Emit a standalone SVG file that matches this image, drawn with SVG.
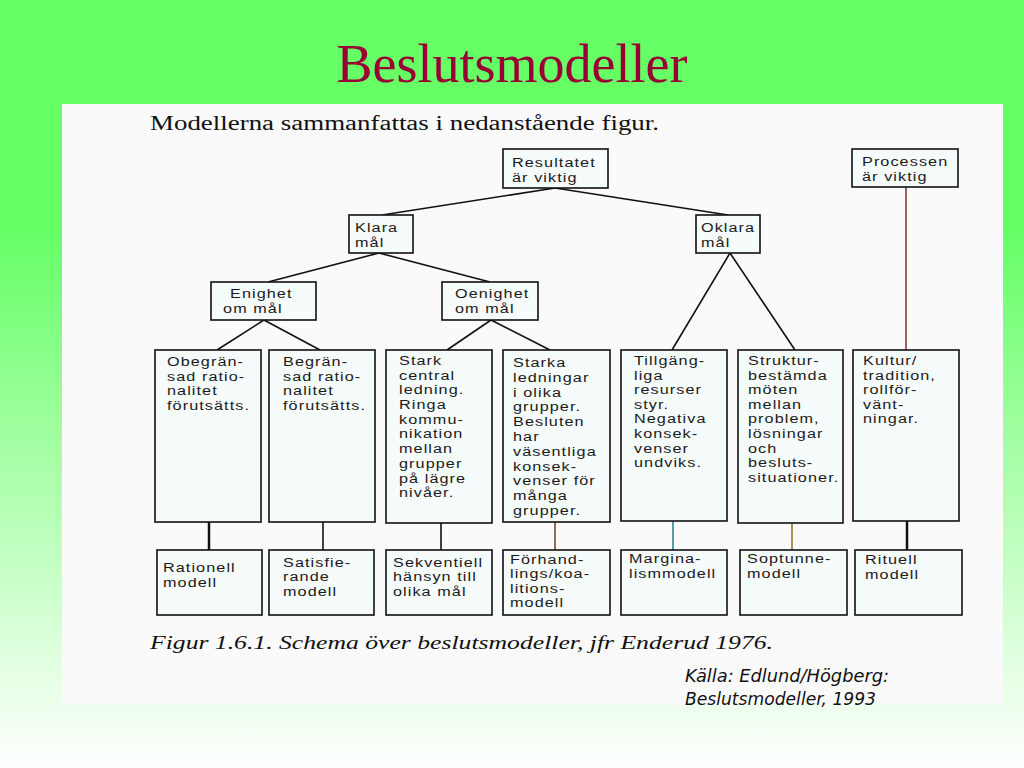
<svg xmlns="http://www.w3.org/2000/svg" width="1024" height="768" viewBox="0 0 1024 768">
<defs>
<linearGradient id="bg" x1="0" y1="0" x2="0" y2="1">
<stop offset="0" stop-color="#66ff66"/>
<stop offset="0.3" stop-color="#66ff66"/>
<stop offset="1" stop-color="#ffffff"/>
</linearGradient>
<style>
.box{fill:#f6fbfb;stroke:#111;stroke-width:1.6}
.t{font-family:"Liberation Sans",Arial,sans-serif;font-size:13.5px;fill:#1a1a1a;letter-spacing:0.9px}
.ln{stroke:#111;stroke-width:1.6;fill:none}
</style>
</defs>
<rect x="0" y="0" width="1024" height="768" fill="url(#bg)"/>
<rect x="62" y="104" width="941" height="601" fill="#fbfafa"/>
<text x="512" y="82" text-anchor="middle" font-family="Liberation Serif,'Times New Roman',serif" font-size="54" fill="#990033">Beslutsmodeller</text>
<text x="150" y="130" font-family="Liberation Serif,'Times New Roman',serif" font-size="20" fill="#111" textLength="509" lengthAdjust="spacingAndGlyphs">Modellerna sammanfattas i nedanstående figur.</text>

<g id="connectors">
<line class="ln" x1="555" y1="188" x2="382" y2="215"/>
<line class="ln" x1="555" y1="188" x2="728" y2="215"/>
<line class="ln" x1="379" y1="253" x2="268" y2="282"/>
<line class="ln" x1="379" y1="253" x2="490" y2="282"/>
<line class="ln" x1="264" y1="320" x2="217" y2="350"/>
<line class="ln" x1="264" y1="320" x2="320" y2="350"/>
<line class="ln" x1="491" y1="320" x2="447" y2="350"/>
<line class="ln" x1="491" y1="320" x2="550" y2="350"/>
<line class="ln" x1="730" y1="253" x2="672" y2="350"/>
<line class="ln" x1="730" y1="253" x2="795" y2="350"/>
<line class="ln" x1="906" y1="187" x2="906" y2="350" style="stroke:#8a3a3a"/>
<line class="ln" x1="209" y1="522" x2="209" y2="550" style="stroke-width:2.5"/>
<line class="ln" x1="323" y1="522" x2="323" y2="550"/>
<line class="ln" x1="441" y1="523" x2="441" y2="550"/>
<line class="ln" x1="555" y1="522" x2="555" y2="550" style="stroke:#7a4a2a"/>
<line class="ln" x1="673" y1="521" x2="673" y2="550" style="stroke:#2a8a8a"/>
<line class="ln" x1="792" y1="523" x2="792" y2="550" style="stroke:#9a7a2a"/>
<line class="ln" x1="907" y1="521" x2="907" y2="550" style="stroke-width:2.5"/>
</g>

<g id="resultatet">
<rect class="box" x="503" y="149" width="105" height="39"/>
<text class="t" transform="translate(512,167) scale(1.2,1)"><tspan x="0" y="0">Resultatet</tspan><tspan x="0" y="15">är viktig</tspan></text>
</g>
<g id="processen">
<rect class="box" x="852" y="149" width="106" height="38"/>
<text class="t" transform="translate(862,166) scale(1.2,1)"><tspan x="0" y="0">Processen</tspan><tspan x="0" y="15">är viktig</tspan></text>
</g>
<g id="klara">
<rect class="box" x="349" y="215" width="64" height="38"/>
<text class="t" transform="translate(355,232) scale(1.2,1)"><tspan x="0" y="0">Klara</tspan><tspan x="0" y="15">mål</tspan></text>
</g>
<g id="oklara">
<rect class="box" x="696" y="215" width="64" height="38"/>
<text class="t" transform="translate(701,232) scale(1.2,1)"><tspan x="0" y="0">Oklara</tspan><tspan x="0" y="15">mål</tspan></text>
</g>
<g id="enighet">
<rect class="box" x="211" y="282" width="105" height="38"/>
<text class="t" transform="translate(230,298) scale(1.2,1)"><tspan x="0" y="0">Enighet</tspan><tspan x="-5.8" y="15">om mål</tspan></text>
</g>
<g id="oenighet">
<rect class="box" x="442" y="282" width="96" height="38"/>
<text class="t" transform="translate(455,298) scale(1.2,1)"><tspan x="0" y="0">Oenighet</tspan><tspan x="0" y="15">om mål</tspan></text>
</g>

<g id="obegransad">
<rect class="box" x="155" y="350" width="106" height="172"/>
<text class="t" transform="translate(167,366) scale(1.2,1)"><tspan x="0" y="0">Obegrän-</tspan><tspan x="0" y="14.7">sad ratio-</tspan><tspan x="0" y="29.4">nalitet</tspan><tspan x="0" y="44.1">förutsätts.</tspan></text>
</g>
<g id="begransad">
<rect class="box" x="269" y="350" width="106" height="172"/>
<text class="t" transform="translate(283,366) scale(1.2,1)"><tspan x="0" y="0">Begrän-</tspan><tspan x="0" y="14.7">sad ratio-</tspan><tspan x="0" y="29.4">nalitet</tspan><tspan x="0" y="44.1">förutsätts.</tspan></text>
</g>
<g id="stark">
<rect class="box" x="386" y="350" width="106" height="173"/>
<text class="t" transform="translate(399,365) scale(1.2,1)"><tspan x="0" y="0">Stark</tspan><tspan x="0" y="14.7">central</tspan><tspan x="0" y="29.4">ledning.</tspan><tspan x="0" y="44.1">Ringa</tspan><tspan x="0" y="58.8">kommu-</tspan><tspan x="0" y="73.5">nikation</tspan><tspan x="0" y="88.2">mellan</tspan><tspan x="0" y="102.9">grupper</tspan><tspan x="0" y="117.6">på lägre</tspan><tspan x="0" y="132.3">nivåer.</tspan></text>
</g>
<g id="starka">
<rect class="box" x="503" y="350" width="107" height="172"/>
<text class="t" transform="translate(513,367) scale(1.2,1)"><tspan x="0" y="0">Starka</tspan><tspan x="0" y="14.8">ledningar</tspan><tspan x="0" y="29.6">i olika</tspan><tspan x="0" y="44.4">grupper.</tspan><tspan x="0" y="59.2">Besluten</tspan><tspan x="0" y="74">har</tspan><tspan x="0" y="88.8">väsentliga</tspan><tspan x="0" y="103.6">konsek-</tspan><tspan x="0" y="118.4">venser för</tspan><tspan x="0" y="133.2">många</tspan><tspan x="0" y="148">grupper.</tspan></text>
</g>
<g id="tillganglig">
<rect class="box" x="621" y="350" width="106" height="171"/>
<text class="t" transform="translate(634,365) scale(1.2,1)"><tspan x="0" y="0">Tillgäng-</tspan><tspan x="0" y="14.6">liga</tspan><tspan x="0" y="29.2">resurser</tspan><tspan x="0" y="43.8">styr.</tspan><tspan x="0" y="58.4">Negativa</tspan><tspan x="0" y="73">konsek-</tspan><tspan x="0" y="87.6">venser</tspan><tspan x="0" y="102.2">undviks.</tspan></text>
</g>
<g id="struktur">
<rect class="box" x="738" y="350" width="105" height="173"/>
<text class="t" transform="translate(748,365) scale(1.2,1)"><tspan x="0" y="0">Struktur-</tspan><tspan x="0" y="14.6">bestämda</tspan><tspan x="0" y="29.2">möten</tspan><tspan x="0" y="43.8">mellan</tspan><tspan x="0" y="58.4">problem,</tspan><tspan x="0" y="73">lösningar</tspan><tspan x="0" y="87.6">och</tspan><tspan x="0" y="102.2">besluts-</tspan><tspan x="0" y="116.8">situationer.</tspan></text>
</g>
<g id="kultur">
<rect class="box" x="853" y="350" width="106" height="171"/>
<text class="t" transform="translate(863,365) scale(1.2,1)"><tspan x="0" y="0">Kultur/</tspan><tspan x="0" y="14.6">tradition,</tspan><tspan x="0" y="29.2">rollför-</tspan><tspan x="0" y="43.8">vänt-</tspan><tspan x="0" y="58.4">ningar.</tspan></text>
</g>

<g id="rationell">
<rect class="box" x="157" y="550" width="105" height="65"/>
<text class="t" transform="translate(163,572) scale(1.2,1)"><tspan x="0" y="0">Rationell</tspan><tspan x="0" y="14.7">modell</tspan></text>
</g>
<g id="satisfierande">
<rect class="box" x="269" y="550" width="105" height="65"/>
<text class="t" transform="translate(283,567) scale(1.2,1)"><tspan x="0" y="0">Satisfie-</tspan><tspan x="0" y="14.3">rande</tspan><tspan x="0" y="28.6">modell</tspan></text>
</g>
<g id="sekventiell">
<rect class="box" x="386" y="550" width="106" height="65"/>
<text class="t" transform="translate(393,567) scale(1.2,1)"><tspan x="0" y="0">Sekventiell</tspan><tspan x="0" y="14.3">hänsyn till</tspan><tspan x="0" y="28.6">olika mål</tspan></text>
</g>
<g id="forhandlings">
<rect class="box" x="503" y="550" width="107" height="65"/>
<text class="t" transform="translate(510,564) scale(1.2,1)"><tspan x="0" y="0">Förhand-</tspan><tspan x="0" y="14.3">lings/koa-</tspan><tspan x="0" y="28.6">litions-</tspan><tspan x="0" y="42.9">modell</tspan></text>
</g>
<g id="marginalism">
<rect class="box" x="621" y="550" width="106" height="65"/>
<text class="t" transform="translate(629,563) scale(1.2,1)"><tspan x="0" y="0">Margina-</tspan><tspan x="0" y="14.6">lismmodell</tspan></text>
</g>
<g id="soptunne">
<rect class="box" x="740" y="550" width="107" height="65"/>
<text class="t" transform="translate(747,563) scale(1.2,1)"><tspan x="0" y="0">Soptunne-</tspan><tspan x="0" y="14.6">modell</tspan></text>
</g>
<g id="rituell">
<rect class="box" x="855" y="550" width="107" height="65"/>
<text class="t" transform="translate(865,564) scale(1.2,1)"><tspan x="0" y="0">Rituell</tspan><tspan x="0" y="14.6">modell</tspan></text>
</g>

<text x="150" y="649" font-family="Liberation Serif,'Times New Roman',serif" font-style="italic" font-size="19" fill="#111" textLength="623" lengthAdjust="spacingAndGlyphs">Figur 1.6.1. Schema över beslutsmodeller, jfr Enderud 1976.</text>
<text x="685" y="682" font-family="'Liberation Sans Narrow','DejaVu Sans Condensed','Liberation Sans',sans-serif" font-style="italic" font-size="17" fill="#111" textLength="204" lengthAdjust="spacingAndGlyphs">Källa: Edlund/Högberg:</text>
<text x="685" y="705" font-family="'Liberation Sans Narrow','DejaVu Sans Condensed','Liberation Sans',sans-serif" font-style="italic" font-size="17" fill="#111" textLength="191" lengthAdjust="spacingAndGlyphs">Beslutsmodeller, 1993</text>
</svg>
